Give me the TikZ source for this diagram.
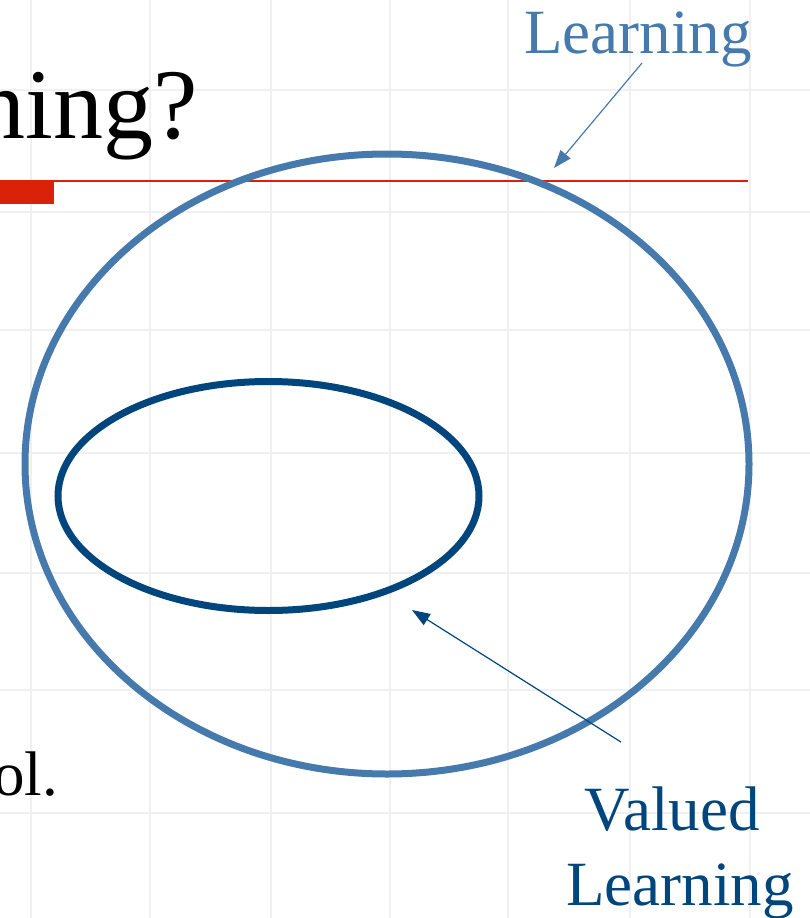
\documentclass[tikz,border=0pt]{standalone}
\usepackage{fontspec}
\setmainfont{Liberation Serif}
\usepackage{tikz}
\usetikzlibrary{shapes.geometric, arrows.meta, positioning, calc}
\usepackage{xcolor}
\definecolor{lightblu}{RGB}{70,122,172}
\definecolor{darkblu}{RGB}{0,70,125}
\definecolor{slidered}{RGB}{218,34,8}

\begin{document}
\begin{tikzpicture}[x=1pt, y=-1pt,
    lbl/.style={inner sep=0pt, font=\fontsize{63}{75}\selectfont},
    blob/.style={ellipse, draw, line width=7pt, inner sep=0pt, outer sep=0pt},
    arr/.style={-{Triangle[length=18pt, width=13pt]}, line width=1.2pt}]
                \useasboundingbox (0,0) rectangle (810,918);
                \clip (0,0) rectangle (810,918);
                % faint slide grid
                \foreach \gx in {31,150,271,390,508,630,750}
                    \draw[black!6, line width=1.5pt] (\gx,0) -- (\gx,918);
                \foreach \gy in {90,212,330,453,573,690,813}
                    \draw[black!6, line width=1.5pt] (0,\gy) -- (810,\gy);
                \node[inner sep=0pt, anchor=base east, font=\fontsize{100}{110}\selectfont] (title) at (198,138) {ning?};
                \node[inner sep=0pt, anchor=base east, font=\fontsize{63}{75}\selectfont] (rest) at (58,795) {ol.};
                \fill[slidered] (0,182) rectangle (54,204);
                \draw[slidered, line width=1.5pt] (0,181) -- (748,181);
                \node[blob, draw=lightblu, minimum width=724pt, minimum height=620pt] (outer) at (387,464) {};
                \node[blob, draw=darkblu, minimum width=421pt, minimum height=229pt] (inner) at (268.5,496) {};
                \node[lbl, text=lightblu, anchor=base] (learn) at (638,53) {Learning};
                \node[lbl, text=darkblu, anchor=base] (valued) at (672,830) {Valued};
                \node[lbl, text=darkblu, anchor=base] (valuedlrn) at (680,905) {Learning};
                \coordinate (lrntip) at (554,168);
                \coordinate (valtip) at (412,610);
                \draw[arr, lightblu] ([xshift=4pt,yshift=-10pt]learn.base) -- (lrntip);
                \draw[arr, darkblu] ([xshift=-51pt,yshift=44pt]valued.north) -- (valtip);
            \end{tikzpicture}
\end{document}
